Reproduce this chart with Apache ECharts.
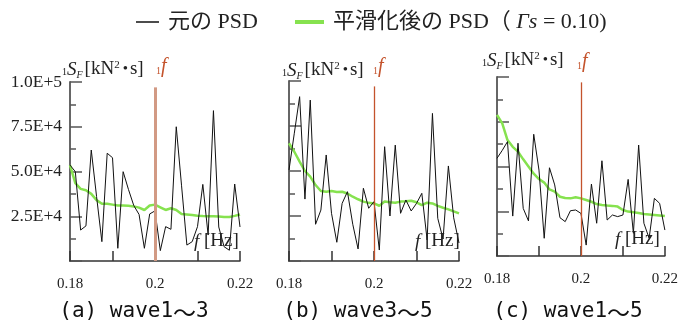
<!DOCTYPE html>
<html><head><meta charset="utf-8">
<script src="https://cdn.jsdelivr.net/npm/echarts@6/dist/echarts.min.js"></script>
<style>html,body{margin:0;padding:0;background:#fff}#c{width:681px;height:332px}</style>
</head><body><div id="c"></div>
<script>
// ---- data ----
const freqs = [0.18, 0.18125, 0.1825, 0.18375, 0.185, 0.18625, 0.1875, 0.18875, 0.19, 0.19125, 0.1925,
  0.19375, 0.195, 0.19625, 0.1975, 0.19875, 0.2, 0.20125, 0.2025, 0.20375, 0.205, 0.20625, 0.2075,
  0.20875, 0.21, 0.21125, 0.2125, 0.21375, 0.215, 0.21625, 0.2175, 0.21875, 0.22];
const xTickLabels = ['0.18', '0.2', '0.22'];
const yTickLabels = ['', '2.5E+4', '5.0E+4', '7.5E+4', '1.0E+5'];
const captions = ['(a) wave1', '(b) wave3', '(c) wave1'];
const captionEnds = ['3', '5', '5'];
const rawName = '元の PSD';
const smoothName = '平滑化後の PSD（ Γs = 0.10)';
const f1 = 0.2;
// original PSD (kN^2·s)
const rawA = [53600, 49900, 17300, 19600, 62000, 36000, 10800, 60200, 57700, 7100, 49900, 40000, 31000,
  26000, 7100, 26300, 28000, 5800, 19200, 17700, 75000, 42000, 8900, 10800, 19200, 42800, 14500, 84000,
  19000, 8000, 6000, 43000, 19000];
const smoothA = [53600, 43500, 40300, 39500, 37500, 34000, 32000, 32000, 31500, 31000, 31000, 30800, 30500,
  29800, 28500, 31000, 31500, 30000, 28500, 29500, 28500, 26300, 26000, 25700, 25300, 25100, 25000, 25000,
  24800, 24600, 24600, 25200, 26000];
const rawB = [50600, 71000, 91300, 34400, 89400, 20400, 28300, 58900, 26500, 10400, 32000, 38500, 20400,
  6700, 40400, 29300, 33000, 6100, 63500, 25000, 64400, 26500, 33900, 27800, 32000, 37600, 11700, 82000,
  23700, 12200, 52800, 24000, 10000];
const smoothB = [65400, 60700, 55200, 50000, 46900, 42200, 38900, 38500, 38900, 38300, 38500, 37500, 35700,
  34300, 33000, 32300, 32000, 30700, 33000, 32600, 32400, 33000, 33200, 33500, 32600, 31000, 32400, 32000,
  30600, 29600, 28700, 27600, 26500];
const rawC = [54600, 59000, 63900, 22300, 63000, 26600, 19600, 68000, 48000, 9900, 49300, 39700, 21400,
  19200, 25300, 25700, 23800, 6100, 40200, 18300, 53200, 20100, 22900, 22000, 22900, 42800, 12700, 62000,
  18300, 9900, 32200, 29400, 14500];
const smoothC = [78800, 74100, 64800, 61000, 58300, 54000, 50000, 46000, 43000, 41000, 37200, 36000, 33100,
  32400, 32200, 32800, 32200, 31300, 30300, 29000, 28500, 28200, 28000, 27600, 25700, 24800, 24400, 24000,
  23500, 23200, 22900, 22600, 22300];
const raws = [rawA, rawB, rawC];
const smooths = [smoothA, smoothB, smoothC];

// ---- layout ----
const SERIF = '"Liberation Serif","Times New Roman","Noto Sans CJK JP",serif';
const grids = [
  {left: 70, top: 82, width: 170, height: 179},
  {left: 289, top: 81, width: 170, height: 180},
  {left: 497, top: 77, width: 170, height: 179}
];
const panelText = [
  {nameX: 62, nameY: 72, fX: 156, fY: 69, hzX: 194, hzY: 243, capX: 134, redW: 3, redC: '#d29a84'},
  {nameX: 282, nameY: 73, fX: 373, fY: 69, hzX: 415, hzY: 243, capX: 358, redW: 1.3, redC: '#c4532c'},
  {nameX: 482, nameY: 63, fX: 577, fY: 64, hzX: 615, hzY: 241, capX: 568, redW: 1.3, redC: '#c4532c'}
];

const chart = echarts.init(document.getElementById('c'), null, {renderer: 'canvas'});
const xAxes = [], yAxes = [], series = [], graphics = [];
grids.forEach((g, i) => {
  xAxes.push({
    gridIndex: i, type: 'value', min: 0.18, max: 0.22, interval: 0.01,
    axisLine: {show: true, onZero: false, lineStyle: {color: '#333', width: 1.5}},
    axisTick: {show: true, inside: true, length: 10, lineStyle: {color: '#333', width: 1.5}},
    splitLine: {show: false},
    axisLabel: {
      margin: 16, fontSize: 15, fontFamily: SERIF, color: '#222',
      formatter: v => { const k = Math.round((v - 0.18) / 0.01); return k % 2 === 0 ? xTickLabels[k / 2] : ''; }
    }
  });
  yAxes.push({
    gridIndex: i, type: 'value', min: 0, max: 100000, interval: 25000,
    axisLine: {show: true, onZero: false, lineStyle: {color: '#666', width: 2}},
    axisTick: {show: true, inside: true, length: 12, lineStyle: {color: '#555', width: 1.5}},
    minorTick: {show: true, splitNumber: 2, length: 6, lineStyle: {color: '#555', width: 1.5}},
    splitLine: {show: false}, minorSplitLine: {show: false},
    axisLabel: {
      show: i === 0, margin: 8, fontSize: 17.5, fontFamily: SERIF, color: '#222', padding: [8, 0, 0, 0],
      formatter: v => yTickLabels[Math.round(v / 25000)]
    }
  });
  const pt = panelText[i];
  series.push({
    name: smoothName, type: 'line', xAxisIndex: i, yAxisIndex: i, z: 2,
    data: freqs.map((f, k) => [f, smooths[i][k]]),
    showSymbol: false, symbol: 'none', silent: true,
    itemStyle: {color: '#86e24f'},
    lineStyle: {color: '#86e24f', width: 2.5}
  });
  series.push({
    name: rawName, type: 'line', xAxisIndex: i, yAxisIndex: i, z: 3,
    data: freqs.map((f, k) => [f, raws[i][k]]),
    showSymbol: false, symbol: 'none', silent: true,
    itemStyle: {color: '#111'},
    lineStyle: {color: '#111', width: 1},
    markLine: {
      silent: true, symbol: ['none', 'none'], label: {show: false},
      lineStyle: {color: pt.redC, width: pt.redW, type: 'solid'},
      data: [[{coord: [f1, 97000]}, {coord: [f1, 0]}]]
    }
  });
  // y-axis name
  graphics.push({
    type: 'text', left: pt.nameX, top: pt.nameY - 12, z: 10,
    style: {
      text: '{p|1}{S|S}{F|F}{t|[kN}{sup|2}{d|•}{t|s]}',
      rich: {
        p: {fontSize: 10, fontFamily: SERIF, fill: '#222', padding: [6, 0, 0, 0]},
        S: {fontSize: 19, fontFamily: SERIF, fontStyle: 'italic', fill: '#222'},
        F: {fontSize: 10, fontFamily: SERIF, fontStyle: 'italic', fill: '#222', padding: [12, 2, 0, 0]},
        t: {fontSize: 19, fontFamily: SERIF, fill: '#222'},
        d: {fontSize: 15, fontFamily: SERIF, fill: '#222', padding: [0, 2, 0, 3]},
        sup: {fontSize: 11, fontFamily: SERIF, fill: '#222', padding: [0, 0, 8, 0]}
      }
    }
  });
  // 1f label
  graphics.push({
    type: 'text', left: pt.fX, top: pt.fY - 12, z: 10,
    style: {
      text: '{p|1}{f|f}',
      rich: {
        p: {fontSize: 10, fontFamily: SERIF, fill: '#c4532c', padding: [8, 0, 0, 0]},
        f: {fontSize: 20, fontFamily: SERIF, fontStyle: 'italic', fill: '#c4532c'}
      }
    }
  });
  // f [Hz]
  graphics.push({
    type: 'text', left: pt.hzX, top: pt.hzY - 11, z: 10,
    style: {
      text: '{f|f}{t| [Hz]}',
      rich: {
        f: {fontSize: 19, fontFamily: SERIF, fontStyle: 'italic', fill: '#222'},
        t: {fontSize: 19, fontFamily: SERIF, fill: '#222'}
      }
    }
  });
  // caption
  graphics.push({
    type: 'text', x: pt.capX, y: 312, z: 10,
    style: {
      text: '{m|' + captions[i] + '}{w|～}{m|' + captionEnds[i] + '}',
      align: 'center', verticalAlign: 'middle',
      rich: {
        m: {fontSize: 21, fontFamily: '"DejaVu Sans Mono",monospace', fill: '#111'},
        w: {fontSize: 23, fontFamily: '"Noto Sans CJK JP",sans-serif', fill: '#111'}
      }
    }
  });
});

const legendText = {fontSize: 22, fontFamily: SERIF, color: '#222', padding: [0, 0, 0, 4],
  rich: {i: {fontSize: 22, fontFamily: SERIF, fontStyle: 'italic', color: '#222'}}};
chart.setOption({
  animation: false,
  backgroundColor: '#fff',
  legend: [
    {data: [rawName], left: 131, top: 6, icon: 'rect', itemWidth: 23, itemHeight: 1.5,
     itemGap: 8, textStyle: legendText, selectedMode: false},
    {data: [smoothName], left: 290, top: 6, icon: 'rect', itemWidth: 29, itemHeight: 4,
     itemGap: 8, textStyle: legendText, selectedMode: false,
     formatter: n => n.replace('Γs', '{i|Γs}')}
  ],
  grid: grids,
  xAxis: xAxes,
  yAxis: yAxes,
  series: series,
  graphic: graphics
});
</script></body></html>
